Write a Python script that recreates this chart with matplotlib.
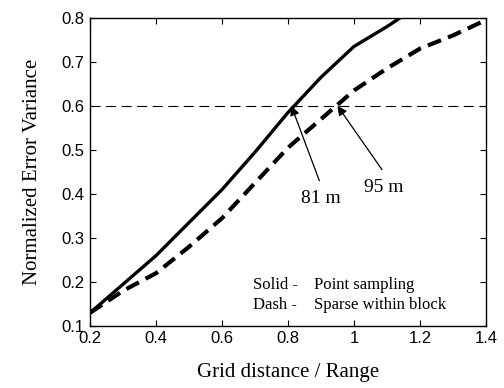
import matplotlib
matplotlib.use("Agg")
import matplotlib.pyplot as plt

# grid distance / range
x_solid = [0.2, 0.3, 0.4, 0.5, 0.6, 0.7, 0.8, 0.9, 1.0, 1.1, 1.2]
y_solid = [0.13, 0.195, 0.26, 0.335, 0.41, 0.495, 0.585, 0.665, 0.735, 0.78, 0.83]

x_dash = [0.2, 0.3, 0.4, 0.5, 0.6, 0.7, 0.8, 0.9, 1.0, 1.1, 1.2, 1.3, 1.4]
y_dash = [0.13, 0.18, 0.22, 0.28, 0.345, 0.425, 0.505, 0.57, 0.635, 0.685, 0.73, 0.76, 0.795]

threshold = 0.6
marks = [(0.81, "81 m", (0.90, 0.39)), (0.95, "95 m", (1.09, 0.415))]

SERIF = ["Liberation Serif", "DejaVu Serif"]
SANS = ["Liberation Sans", "DejaVu Sans"]

fig = plt.figure(figsize=(5.04, 3.88), dpi=100)
ax = fig.add_axes([0.179, 0.160, 0.785, 0.794])

ax.plot(x_solid, y_solid, color="black", lw=2.4, solid_capstyle="butt")
ax.plot(x_dash, y_dash, color="black", lw=3.0, dashes=(3.4, 1.8))
ax.axhline(threshold, color="black", lw=0.8, dashes=(9, 5))

for xv, lab, (tx, ty) in marks:
    ax.annotate("", xy=(xv, threshold), xytext=(tx - 0.005, ty + 0.04),
                arrowprops=dict(arrowstyle="-|>", color="black", lw=0.9,
                                mutation_scale=14, shrinkA=0, shrinkB=0))
    ax.text(tx, ty, lab, fontsize=14, family=SERIF, ha="center", va="center")

ax.text(0.693, 0.194, "Solid -", fontsize=12, family=SERIF, va="center")
ax.text(0.879, 0.194, "Point sampling", fontsize=12, family=SERIF, va="center")
ax.text(0.693, 0.148, "Dash -", fontsize=12, family=SERIF, va="center")
ax.text(0.879, 0.148, "Sparse within block", fontsize=12, family=SERIF, va="center")

ax.set_xlim(0.2, 1.4)
ax.set_ylim(0.1, 0.8)
ax.set_xticks([0.2, 0.4, 0.6, 0.8, 1.0, 1.2, 1.4])
ax.set_xticklabels(["0.2", "0.4", "0.6", "0.8", "1", "1.2", "1.4"])
ax.set_yticks([0.1, 0.2, 0.3, 0.4, 0.5, 0.6, 0.7, 0.8])
ax.set_yticklabels(["0.1", "0.2", "0.3", "0.4", "0.5", "0.6", "0.7", "0.8"])
ax.tick_params(direction="in", top=True, right=True, length=4, width=0.8,
               labelsize=12, pad=4)
for lab in ax.get_xticklabels() + ax.get_yticklabels():
    lab.set_family(SANS)
for s in ax.spines.values():
    s.set_linewidth(1.0)

ax.set_xlabel("Grid distance / Range", fontsize=15, family=SERIF, labelpad=12)
ax.set_ylabel("Normalized Error Variance", fontsize=15, family=SERIF, labelpad=14)

fig.savefig("out.png", dpi=100)
